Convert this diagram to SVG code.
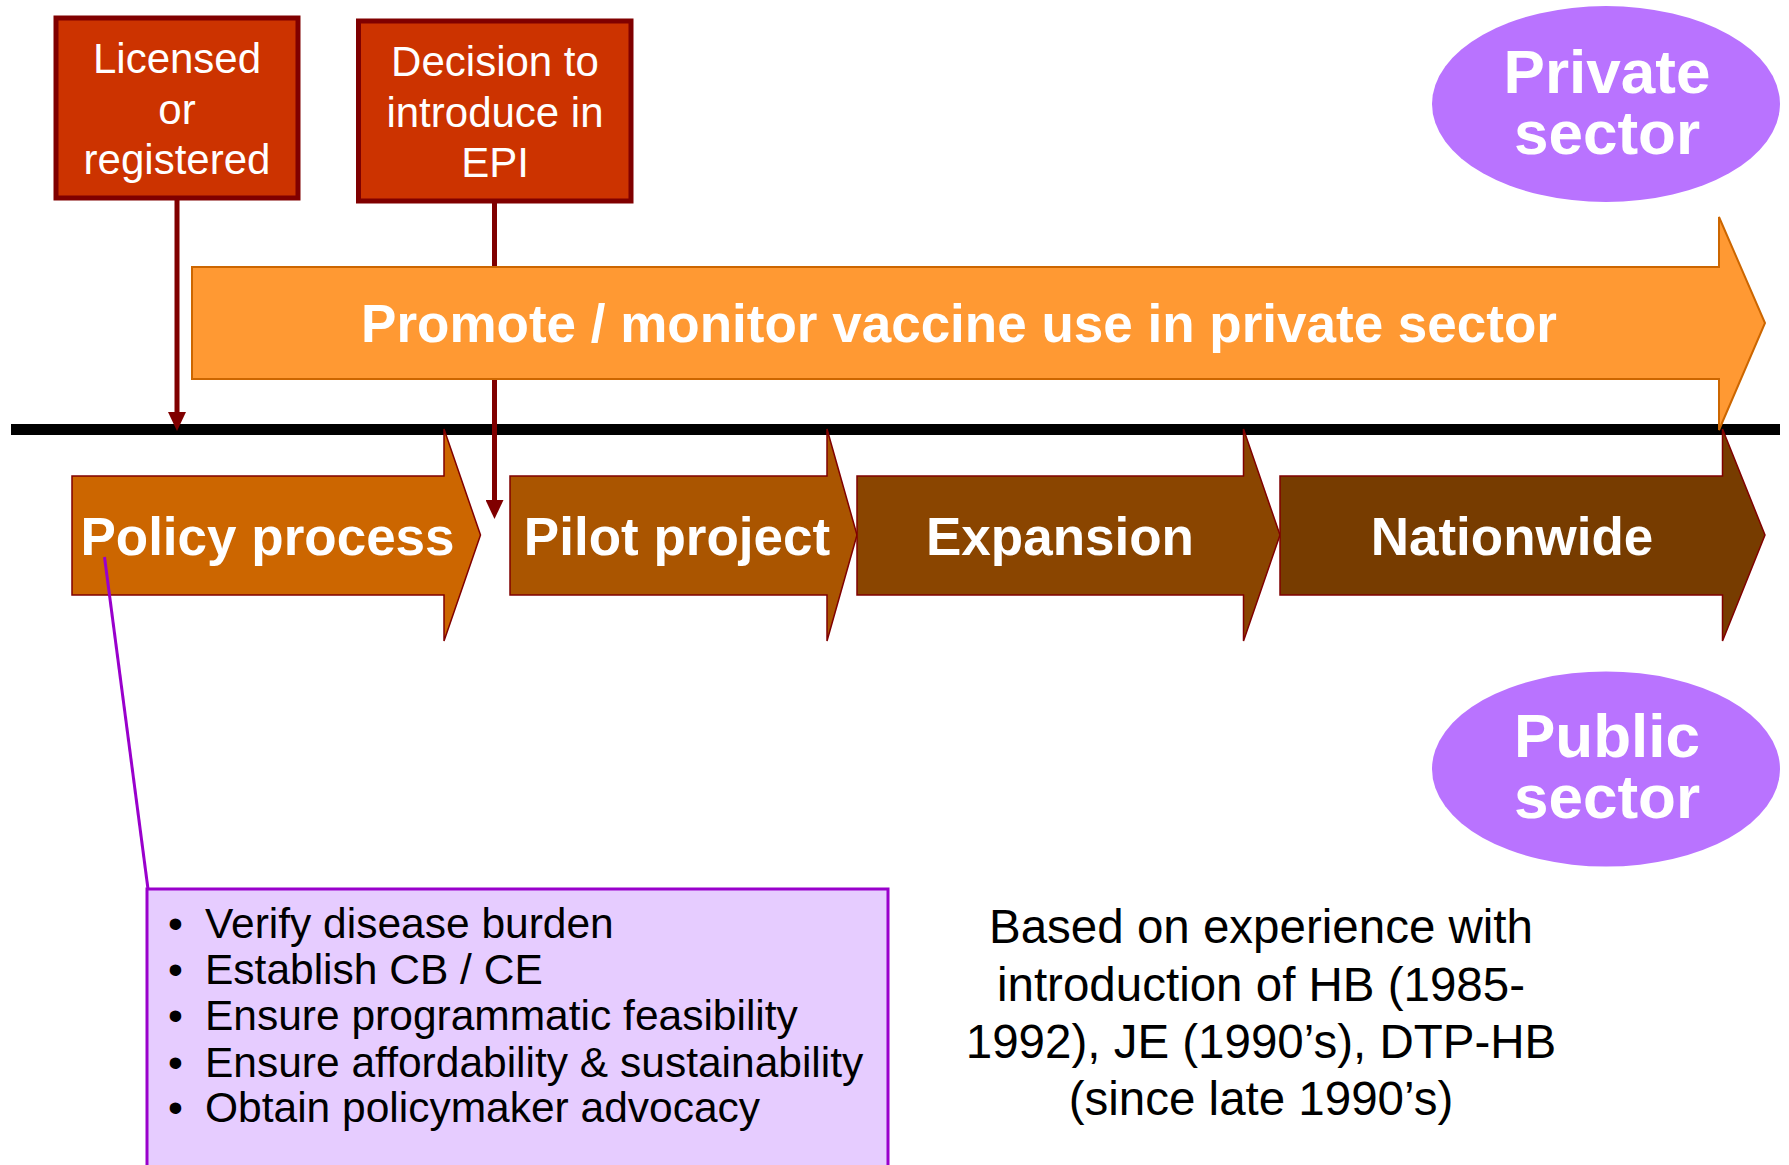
<svg xmlns="http://www.w3.org/2000/svg" width="1789" height="1165" viewBox="0 0 1789 1165">
<style>
.box{fill:#CC3300;stroke:#800000;stroke-width:5}
.boxt{font-family:"Liberation Sans",Arial,sans-serif;font-size:42px;fill:#fff;text-anchor:middle}
.stage{stroke:#800000;stroke-width:1.5}
.st{font-family:"Liberation Sans",Arial,sans-serif;font-weight:bold;font-size:53px;fill:#fff;text-anchor:middle}
.ell{fill:#B973FF}
.et{font-family:"Liberation Sans",Arial,sans-serif;font-weight:bold;font-size:62px;fill:#fff;text-anchor:middle}
.bl{font-family:"Liberation Sans",Arial,sans-serif;font-size:42.5px;fill:#000}
.note{font-family:"Liberation Sans",Arial,sans-serif;font-size:47.5px;fill:#000;text-anchor:middle}
.conn{stroke:#800000;stroke-width:5;fill:none}
</style>
<defs>
<marker id="ah" markerUnits="userSpaceOnUse" markerWidth="19" markerHeight="18" viewBox="0 0 19 18" refX="0" refY="9" orient="auto">
<path d="M0,0 L19,9 L0,18 Z" fill="#800000"/>
</marker>
</defs>
<rect id="timeline" x="11" y="424" width="1769" height="11" fill="#000"/>
<g id="connectors-back">
<line class="conn" x1="494.5" y1="203" x2="494.5" y2="267"/>
</g>
<g id="promote">
<polygon points="192,267 1719,267 1719,217 1765,323 1719,430 1719,379 192,379" fill="#FF9933" stroke="#CC6600" stroke-width="2"/>
<text class="st" x="959" y="342">Promote / monitor vaccine use in private sector</text>
</g>
<g id="policy">
<polygon class="stage" points="72,476 444,476 444,429 480.5,535 444,641 444,595 72,595" fill="#CC6600"/>
<text class="st" x="267.5" y="555">Policy process</text>
</g>
<g id="pilot">
<polygon class="stage" points="510,476 827,476 827,429 857,535 827,641 827,595 510,595" fill="#AA5500"/>
<text class="st" x="677" y="555">Pilot project</text>
</g>
<g id="expansion">
<polygon class="stage" points="857,476 1243.5,476 1243.5,429 1280,535 1243.5,641 1243.5,595 857,595" fill="#8A4500"/>
<text class="st" x="1060" y="555">Expansion</text>
</g>
<g id="nationwide">
<polygon class="stage" points="1280,476 1722.5,476 1722.5,429 1765,535 1722.5,641 1722.5,595 1280,595" fill="#773C00"/>
<text class="st" x="1512" y="555">Nationwide</text>
</g>
<g id="licensed">
<rect class="box" x="56" y="18" width="242" height="180"/>
<text class="boxt" x="177" y="72.5">Licensed<tspan x="177" y="123.5">or</tspan><tspan x="177" y="174">registered</tspan></text>
</g>
<g id="decision">
<rect class="box" x="358.5" y="21" width="272.5" height="180"/>
<text class="boxt" x="495" y="76">Decision to<tspan x="495" y="126.5">introduce in</tspan><tspan x="495" y="176.5">EPI</tspan></text>
</g>
<g id="private">
<ellipse class="ell" cx="1606" cy="104" rx="174" ry="98"/>
<text class="et" x="1607" y="93">Private<tspan x="1607" y="154">sector</tspan></text>
</g>
<g id="public">
<ellipse class="ell" cx="1606" cy="769" rx="174" ry="97.5"/>
<text class="et" x="1607" y="757">Public<tspan x="1607" y="818">sector</tspan></text>
</g>
<g id="policy-details">
<rect x="147" y="889" width="741" height="290" fill="#E6CCFF" stroke="#9900CC" stroke-width="3"/>
<g class="bl">
<text x="168" y="938">•</text><text x="205" y="938">Verify disease burden</text>
<text x="168" y="983.5">•</text><text x="205" y="983.5">Establish CB / CE</text>
<text x="168" y="1030">•</text><text x="205" y="1030">Ensure programmatic feasibility</text>
<text x="168" y="1076.5">•</text><text x="205" y="1076.5">Ensure affordability &amp; sustainability</text>
<text x="168" y="1122">•</text><text x="205" y="1122">Obtain policymaker advocacy</text>
</g>
</g>
<g id="note">
<text class="note" x="1261" y="943">Based on experience with<tspan x="1261" y="1001">introduction of HB (1985-</tspan><tspan x="1261" y="1058">1992), JE (1990’s), DTP-HB</tspan><tspan x="1261" y="1115">(since late 1990’s)</tspan></text>
</g>
<g id="connectors">
<line class="conn" x1="177" y1="200" x2="177" y2="412" marker-end="url(#ah)"/>
<line class="conn" x1="494.5" y1="380" x2="494.5" y2="500" marker-end="url(#ah)"/>
<line x1="104.5" y1="557" x2="148" y2="889" stroke="#9900CC" stroke-width="3"/>
</g>
</svg>
